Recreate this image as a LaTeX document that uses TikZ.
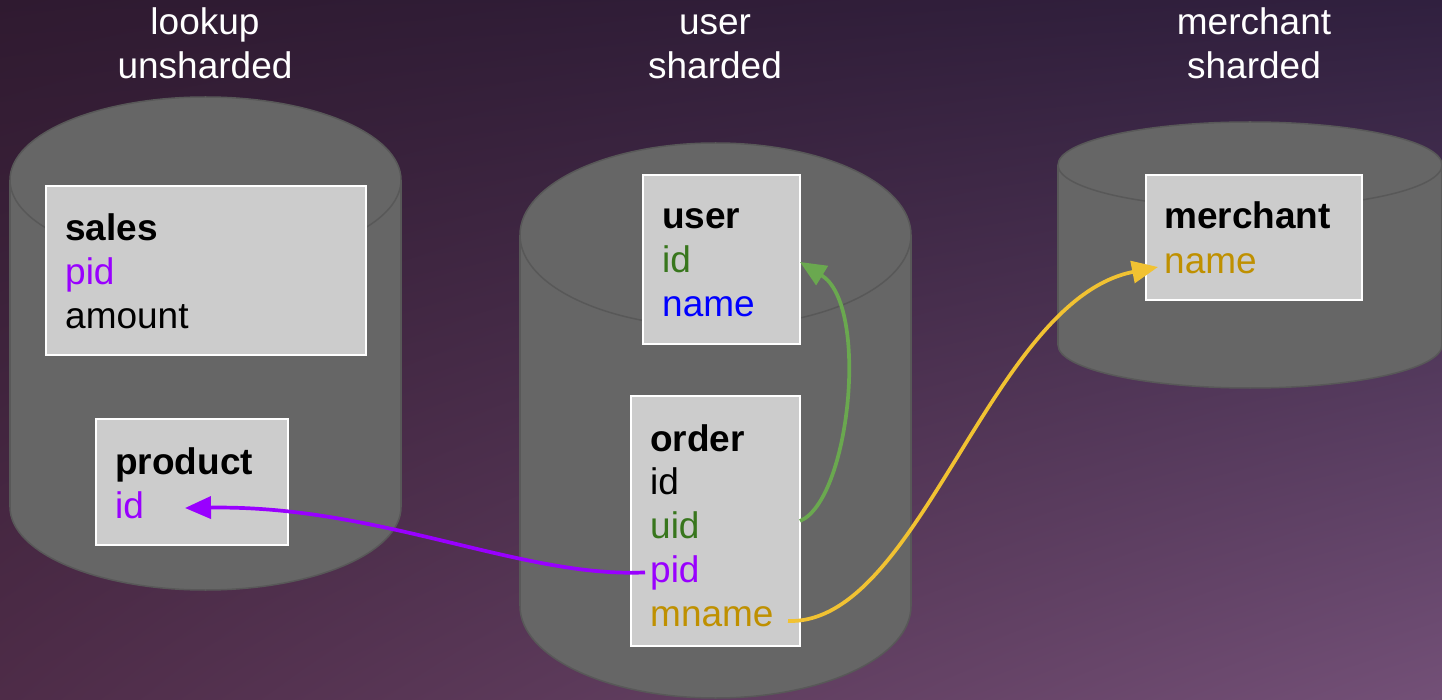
\documentclass[tikz,border=0pt]{standalone}
\usepackage{fontspec}
\setmainfont{Liberation Sans}
\usetikzlibrary{arrows.meta,calc,shadings}
\definecolor{bgul}{HTML}{2F1A30}
\definecolor{bgur}{HTML}{30203F}
\definecolor{bgll}{HTML}{4E2C48}
\definecolor{bglr}{HTML}{735077}
\definecolor{cylfill}{HTML}{666666}
\definecolor{cylline}{HTML}{585858}
\definecolor{boxfill}{HTML}{CCCCCC}
\definecolor{tpurple}{HTML}{9900FF}
\definecolor{tgreen}{HTML}{38761D}
\definecolor{tblue}{HTML}{0000FF}
\definecolor{tgold}{HTML}{BF9000}
\definecolor{agreen}{HTML}{6AA84F}
\definecolor{ayellow}{HTML}{F1C232}
\newcommand\mycyl[5]{%
  \filldraw[fill=cylfill,draw=cylline,line width=1.5pt] (#1,#5) ellipse [x radius=#2pt, y radius=#4pt];
  \fill[cylfill] (#1-#2,#3) rectangle (#1+#2,#5);
  \draw[cylline,line width=1.5pt] (#1-#2,#3) -- (#1-#2,#5) (#1+#2,#3) -- (#1+#2,#5);
  \filldraw[fill=cylfill,draw=cylline,line width=1.5pt] (#1,#3) ellipse [x radius=#2pt, y radius=#4pt];
}
\begin{document}
\begin{tikzpicture}[x=1pt,y=-1pt,
  tbox/.style={draw=white,fill=boxfill,line width=2pt,anchor=north west,inner sep=0pt,outer sep=0pt},
  txt/.style={font=\fontsize{37}{44}\selectfont,inner sep=0pt,anchor=base west},
  ttl/.style={font=\fontsize{37}{44}\selectfont,inner sep=0pt,anchor=base,text=white},
  conn/.style={line width=3.7pt,-{Triangle[length=26pt,width=22pt]}}]
\useasboundingbox (0,0) rectangle (1442,700);
\shade[upper left=bgul,upper right=bgur,lower left=bgll,lower right=bglr] (0,0) rectangle (1442,700);
% titles
\node[ttl] (t1a) at (205,35) {lookup};
\node[ttl] (t1b) at (205,79) {unsharded};
\node[ttl] (t2a) at (715,35) {user};
\node[ttl] (t2b) at (715,79) {sharded};
\node[ttl] (t3a) at (1254,35) {merchant};
\node[ttl] (t3b) at (1254,79) {sharded};
% cylinders
\mycyl{205.5}{195.5}{180}{83}{507}
\mycyl{715.5}{195.5}{235}{92}{606}
\mycyl{1250}{192}{165}{43}{345}
% boxes
\node[tbox,minimum width=320pt,minimum height=169pt] (sales) at (46,186) {};
\node[tbox,minimum width=192pt,minimum height=126pt] (product) at (96,419) {};
\node[tbox,minimum width=157pt,minimum height=169pt] (user) at (643,175) {};
\node[tbox,minimum width=169pt,minimum height=250pt] (order) at (631,396) {};
\node[tbox,minimum width=216pt,minimum height=125pt] (merchant) at (1146,175) {};
% texts
\node[txt] (salesT) at (65,241) {\textbf{sales}};
\node[txt,text=tpurple] (salesPid) at (65,285) {pid};
\node[txt] (salesAmt) at (65,329) {amount};
\node[txt] (productT) at (115,474) {\textbf{product}};
\node[txt,text=tpurple] (productId) at (115,518) {id};
\node[txt] (userT) at (662,229) {\textbf{user}};
\node[txt,text=tgreen] (userId) at (662,273) {id};
\node[txt,text=tblue] (userName) at (662,317) {name};
\node[txt] (orderT) at (650,451) {\textbf{order}};
\node[txt] (orderId) at (650,494) {id};
\node[txt,text=tgreen] (orderUid) at (650,538) {uid};
\node[txt,text=tpurple] (orderPid) at (650,582) {pid};
\node[txt,text=tgold] (orderMname) at (650,626) {mname};
\node[txt] (merchantT) at (1164,229) {\textbf{merchant}};
\node[txt,text=tgold] (merchantName) at (1164,274) {name};
% connector ends
\coordinate (gstart) at (order.east |- 0,521);
\coordinate (gtip) at (user.east |- 0,262);
\coordinate (pstart) at ($(orderPid.west)+(-5,0)$);
\coordinate (ptip) at (185,508);
\coordinate (ystart) at (788,621);
\coordinate (ytip) at (1158,267);
% connectors
\draw[conn,agreen] (gstart) .. controls (850,500) and (870,305) .. (gtip);
\draw[conn,tpurple] (pstart) .. controls (520,578) and (380,505) .. (ptip);
\draw[conn,ayellow] (ystart) .. controls (920,625) and (990,300) .. (ytip);
\end{tikzpicture}
\end{document}
